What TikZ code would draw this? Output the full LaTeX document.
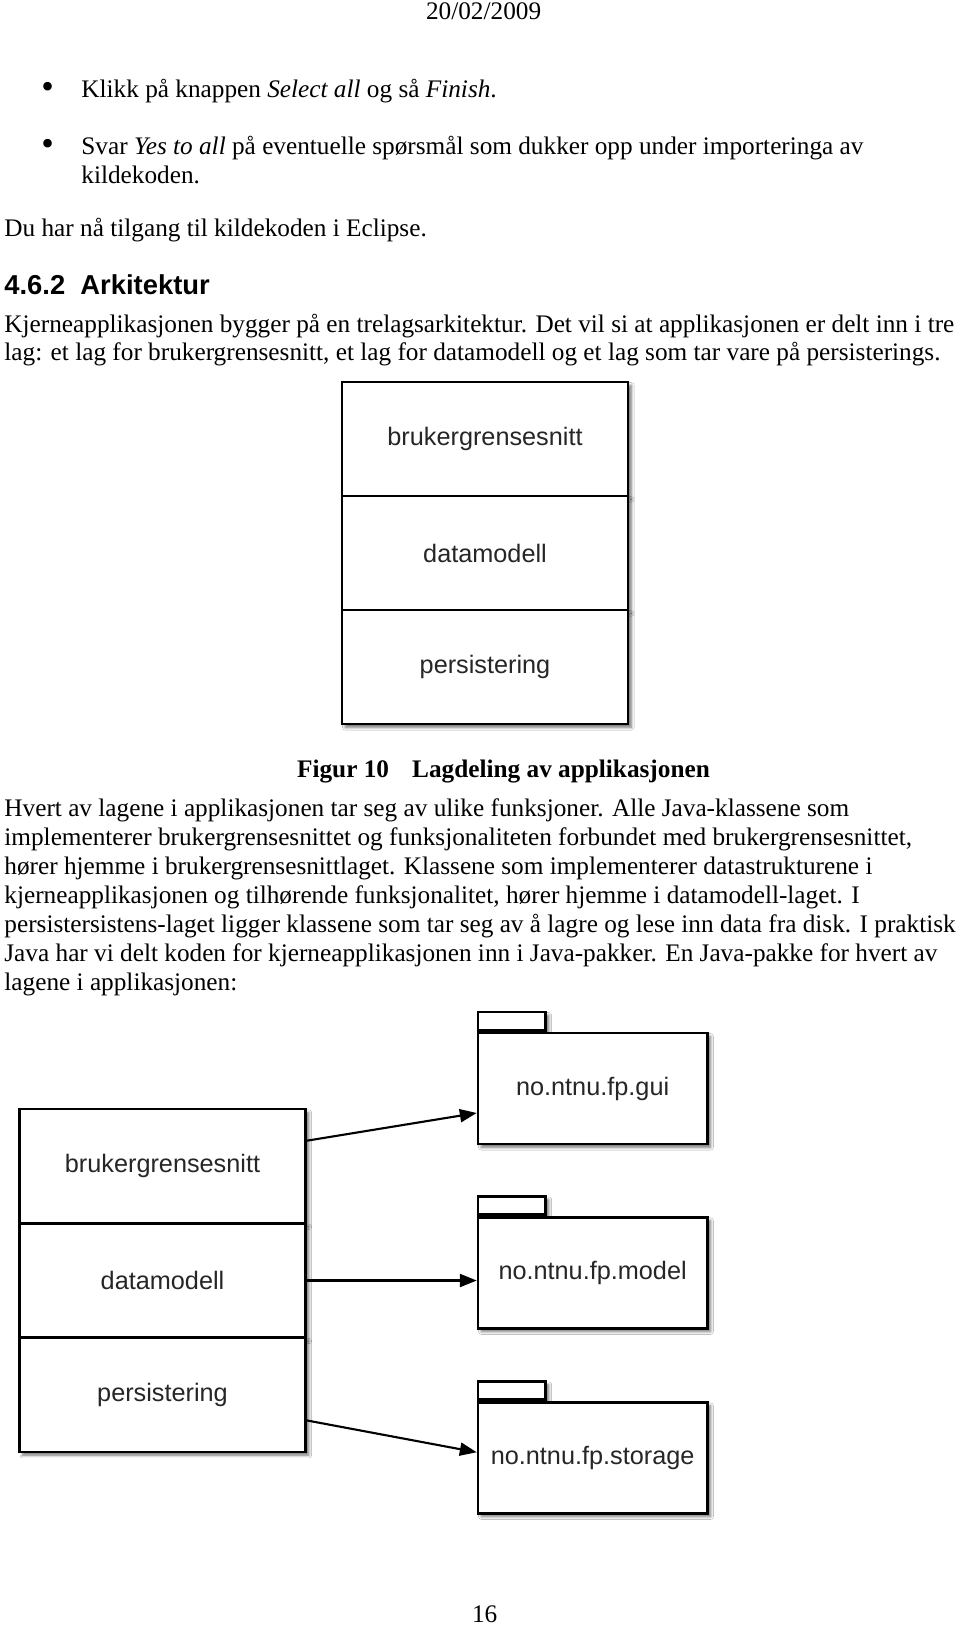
\documentclass[tikz,border=0pt]{standalone}
\usepackage{fontspec}
\setmainfont{Liberation Serif}
\setsansfont{Liberation Sans}
\usetikzlibrary{calc,shadows,shadows.blur,arrows.meta}
\def\u{0.475pt}
\tikzset{
  txt/.style={inner sep=0pt, anchor=base west, font=\fontsize{12}{14}\selectfont},
  ctxt/.style={inner sep=0pt, anchor=base, font=\fontsize{12}{14}\selectfont},
  bul/.style={inner sep=0pt, anchor=center, font=\fontsize{17}{17}\selectfont},
  softshadow/.style={blur shadow={shadow xshift=1.6pt, shadow yshift=-1.6pt,
    shadow blur radius=1.3pt, shadow blur steps=6, shadow opacity=55}},
  layer/.style={draw=black, line width=1.2pt, fill=white, inner sep=0pt,
    minimum width={286*\u}, minimum height={114.2*\u},
    font=\sffamily\fontsize{12}{14}\selectfont, text=black!85, softshadow},
  pkgbody/.style={draw=black, line width=1.2pt, fill=white, inner sep=0pt,
    minimum width={229.3*\u}, minimum height={111*\u},
    font=\sffamily\fontsize{12}{14}\selectfont, text=black!85, softshadow},
  pkgtab/.style={draw=black, line width=1.2pt, fill=white, inner sep=0pt,
    minimum width={67.6*\u}, minimum height={18.4*\u}, anchor=south west, softshadow},
  arr/.style={line width=1pt, -{Triangle[length=8pt,width=6.2pt]}}
}
\begin{document}
\begin{tikzpicture}[x=0.475pt,y=-0.475pt]
\useasboundingbox[fill=white] (0,0) rectangle (960,1627);

% header and footer
\node[ctxt] (date) at (483.6,19.5) {20/02/2009};
\node[ctxt] (pnum) at (484.7,1622) {16};

% bullets
\node[bul] (b1) at (47.7,90.5) {•};
\node[txt] (t1) at (81,97.3) {Klikk på knappen \textit{Select all} og så \textit{Finish}.};
\node[bul] (b2) at (47.7,147.2) {•};
\node[txt] (t2) at (81,154) {Svar \textit{Yes to all} på eventuelle spørsmål som dukker opp under importeringa av};
\node[txt] (t3) at (81,183) {kildekoden.};
\node[txt] (t4) at (4,236.7) {Du har nå tilgang til kildekoden i Eclipse.};

% heading
\node[txt, font=\sffamily\bfseries\fontsize{13}{15}\selectfont] (h) at (4,294.3) {4.6.2\ \ Arkitektur};
\node[txt] (t5) at (4,332) {Kjerneapplikasjonen bygger på en trelagsarkitektur. Det vil si at applikasjonen er delt inn i tre};
\node[txt] (t6) at (4,360.7) {lag: et lag for brukergrensesnitt, et lag for datamodell og et lag som tar vare på persisterings.};

% figure 10
\node[layer] (A1) at (485,439) {brukergrensesnitt};
\node[layer] (A2) at (485,553) {datamodell};
\node[layer] (A3) at (485,667) {persistering};

\node[ctxt, font=\bfseries\fontsize{12}{14}\selectfont] (cap) at (503.5,777) {Figur 10\hspace{11pt}Lagdeling av applikasjonen};

% paragraph
\node[txt] (p1) at (4,816.5) {Hvert av lagene i applikasjonen tar seg av ulike funksjoner. Alle Java-klassene som};
\node[txt] (p2) at (4,845.5) {implementerer brukergrensesnittet og funksjonaliteten forbundet med brukergrensesnittet,};
\node[txt] (p3) at (4,874.5) {hører hjemme i brukergrensesnittlaget. Klassene som implementerer datastrukturene i};
\node[txt] (p4) at (4,903.5) {kjerneapplikasjonen og tilhørende funksjonalitet, hører hjemme i datamodell-laget. I};
\node[txt] (p5) at (4,932.5) {persistersistens-laget ligger klassene som tar seg av å lagre og lese inn data fra disk. I praktisk};
\node[txt] (p6) at (4,961.5) {Java har vi delt koden for kjerneapplikasjonen inn i Java-pakker. En Java-pakke for hvert av};
\node[txt] (p7) at (4,990.5) {lagene i applikasjonen:};

% second figure: layers
\node[layer] (L1) at (162.5,1166.3) {brukergrensesnitt};
\node[layer] (L2) at (162.5,1280.5) {datamodell};
\node[layer] (L3) at (162.5,1394.7) {persistering};

% packages
\coordinate (P1nw) at (476.7,1031.7);
\coordinate (P2nw) at (476.7,1216);
\coordinate (P3nw) at (476.7,1401);
\node[pkgtab] (T1) at (P1nw) {};
\node[pkgbody, anchor=north west] (P1) at (P1nw) {no.ntnu.fp.gui};
\node[pkgtab] (T2) at (P2nw) {};
\node[pkgbody, anchor=north west] (P2) at (P2nw) {no.ntnu.fp.model};
\node[pkgtab] (T3) at (P3nw) {};
\node[pkgbody, anchor=north west] (P3) at (P3nw) {no.ntnu.fp.storage};

% arrows
\draw[arr] ($(L1.east)+(0,-25.6)$) -- ($(P1.west)+(0,24.5)$);
\draw[arr] (L2.east) -- (L2.east -| P2.west);
\draw[arr] ($(L3.east)+(0,25.7)$) -- ($(P3.west)+(0,-5.5)$);
\end{tikzpicture}
\end{document}
